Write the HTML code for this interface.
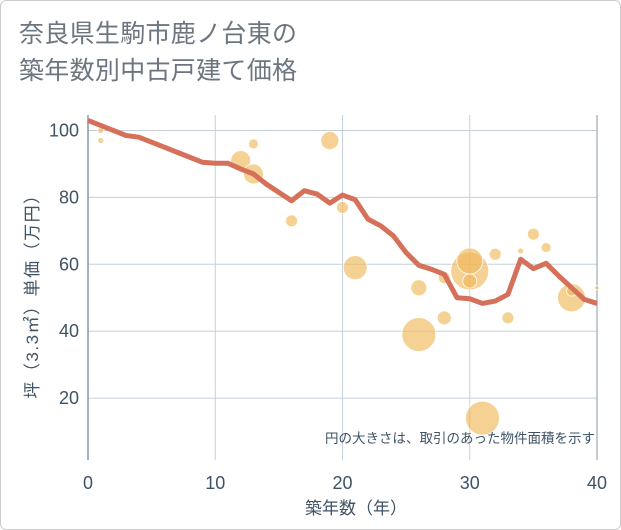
<!DOCTYPE html>
<html><head><meta charset="utf-8"><style>
body{margin:0;background:#fff;}
#wrap{position:relative;width:619px;height:528px;border:1px solid #ccc;border-radius:6px;background:#fff;overflow:hidden;font-family:"Liberation Sans","Noto Sans CJK JP",sans-serif;}
.title{position:absolute;left:18px;font-size:25px;color:#6b7680;letter-spacing:0.3px;white-space:nowrap;}
</style></head><body>
<div id="wrap">
<div class="title" style="top:13px">奈良県生駒市鹿ノ台東の</div>
<div class="title" style="top:50px">築年数別中古戸建て価格</div>
<svg id="chart" width="621" height="530" style="position:absolute;left:-1px;top:-1px"></svg>
</div>
<script>
const lineYears=[0,1,2,3,4,5,6,7,8,9,10,11,12,13,14,15,16,17,18,19,20,21,22,23,24,25,26,27,28,29,30,31,32,33,34,35,36,37,38,39,40];
const lineValues=[103,101.5,100,98.5,98,96.5,95,93.5,92,90.5,90.2,90.2,88.5,87,84,81.5,79,82,81,78.3,80.7,79.3,73.5,71.5,68.5,63.5,59.7,58.5,57,50,49.7,48.3,49,51,61.5,58.7,60.3,56.5,53,49.5,48.3];
const bubbleYears=[1,1,12,13,13,16,19,20,21,26,26,28,28,30,30,30,31,32,33,34,35,36,38,38,40];
const bubbleValues=[100,97,91,96,87,73,97,77,59,53,39,44,56,58,61,55,14,63,44,64,69,65,50,52,53];
const bubbleSizes=[3,3,10,5,10,6,9,6,12,8,17,7,6,19,13,7,17,6,6,3,6,5,14,5,2];
const xTicks=[0,10,20,30,40];
const yTicks=[20,40,60,80,100];
const NS="http://www.w3.org/2000/svg";
const svg=document.getElementById('chart');
const L=88,R=597,T=115,B=460;
const xs=v=>L+v*(R-L)/40;
const ys=v=>465-v*3.345;
function mk(tag,attrs){const e=document.createElementNS(NS,tag);for(const k in attrs)e.setAttribute(k,attrs[k]);svg.appendChild(e);return e;}
for(const t of xTicks){
 const g=mk('line',{x1:xs(t),x2:xs(t),y1:T,y2:B,stroke:'#c5d0dc','stroke-width':1});
 
 
 const tx=mk('text',{x:xs(t),y:489,'text-anchor':'middle','font-size':18,fill:'#3f5366','font-family':'Liberation Sans, sans-serif'});
 tx.textContent=t;
 
 
}
for(const t of yTicks){
 const g=mk('line',{x1:L,x2:R,y1:ys(t),y2:ys(t),stroke:'#c5d0dc','stroke-width':1});
 
 
 const tx=mk('text',{x:79,y:ys(t)+6,'text-anchor':'end','font-size':18,fill:'#3f5366','font-family':'Liberation Sans, sans-serif'});
 tx.textContent=t;
 
 
}
const ax=mk('line',{x1:L,x2:L,y1:T,y2:B,stroke:'#8a97a5','stroke-width':1.5});


const rx=mk('line',{x1:R,x2:R,y1:T,y2:B,stroke:'#8a97a5','stroke-width':1});


bubbleYears.forEach((y,i)=>{
 const c=mk('circle',{cx:xs(y),cy:ys(bubbleValues[i]),r:bubbleSizes[i],fill:'rgba(240,184,90,0.65)',stroke:'#fff','stroke-width':0.8});
 
 
});
const p=mk('polyline',{points:lineYears.map((y,i)=>xs(y)+','+ys(lineValues[i])).join(' '),fill:'none',stroke:'#d5705a','stroke-width':5,'stroke-linejoin':'round'});


const note=mk('text',{x:595,y:443,'text-anchor':'end','font-size':13.5,fill:'#3f5366','font-family':'Liberation Sans, Noto Sans CJK JP, sans-serif'});
note.textContent='円の大きさは、取引のあった物件面積を示す';


const xt=mk('text',{x:356,y:514,'text-anchor':'middle','font-size':17,fill:'#3f5366','font-family':'Liberation Sans, Noto Sans CJK JP, sans-serif'});
xt.textContent='築年数（年）';


const yt=mk('text',{x:0,y:0,'text-anchor':'middle','font-size':17,'letter-spacing':1.5,fill:'#3f5366','font-family':'Liberation Sans, Noto Sans CJK JP, sans-serif',transform:'translate(38,292) rotate(-90)'});
yt.textContent='坪（3.3㎡）単価（万円）';


</script>
</body></html>
